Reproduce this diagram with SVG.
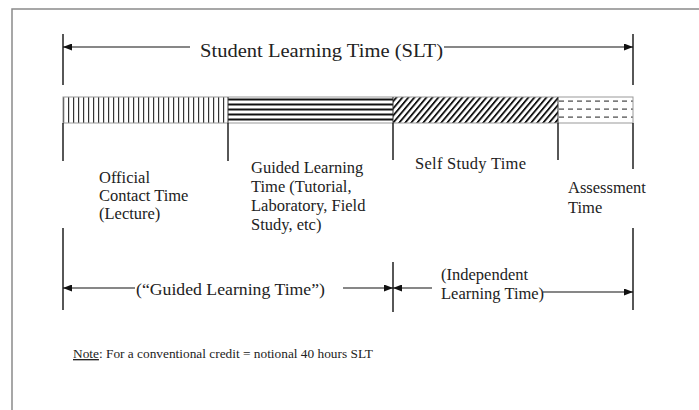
<svg xmlns="http://www.w3.org/2000/svg" width="699" height="410" viewBox="0 0 699 410">
<style>
.t{fill:#222;}
.lbl{font-size:16.5px;}
.ln{stroke:#111;stroke-width:1.2;fill:none;}
.tick{stroke:#111;stroke-width:1.4;}
.frame{stroke:#8a8a8a;stroke-width:1.5;fill:none;}
</style>
<defs>
<marker id="ah" viewBox="0 0 10 10" refX="10" refY="5" markerWidth="9" markerHeight="7" markerUnits="userSpaceOnUse" orient="auto-start-reverse" preserveAspectRatio="none">
<path d="M0,0 L10,5 L0,10 z" fill="#111"/>
</marker>
<pattern id="pv" patternUnits="userSpaceOnUse" x="63" y="0" width="5" height="10">
<rect width="5" height="10" fill="#fff"/>
<rect x="0" y="0" width="1.2" height="10" fill="#333"/>
</pattern>
<pattern id="ph" patternUnits="userSpaceOnUse" x="0" y="97" width="10" height="5">
<rect width="10" height="5" fill="#fff"/>
<rect x="0" y="1.5" width="10" height="2" fill="#111"/>
</pattern>
<pattern id="pd" patternUnits="userSpaceOnUse" x="393" y="97" width="6" height="6" patternTransform="skewX(-40)">
<rect width="6" height="6" fill="#fff"/>
<rect x="0" y="0" width="2.4" height="6" fill="#111"/>
</pattern>
<pattern id="pt" patternUnits="userSpaceOnUse" x="558" y="97" width="9" height="8">
<rect width="9" height="8" fill="#fff"/>
<rect x="1" y="3.5" width="5" height="1.2" fill="#444"/>
</pattern>
</defs>
<rect width="699" height="410" fill="#fff"/>
<g id="frame">
<path class="frame" d="M12,410 V9 H699"/>
</g>
<g font-family="Liberation Serif, Times New Roman, serif" fill="#222">
<g id="title">
<text x="200" y="57" font-size="18" textLength="243" lengthAdjust="spacingAndGlyphs" font-family="Liberation Serif, serif">Student Learning Time (SLT)</text>
</g>
<g id="label-contact">
<text class="lbl" x="99" y="183" font-family="Liberation Serif, serif">Official</text>
<text class="lbl" x="99" y="201" font-family="Liberation Serif, serif">Contact Time</text>
<text class="lbl" x="99" y="219" font-family="Liberation Serif, serif">(Lecture)</text>
</g>
<g id="label-guided">
<text class="lbl" x="251" y="173" font-family="Liberation Serif, serif">Guided Learning</text>
<text class="lbl" x="251" y="192" font-family="Liberation Serif, serif">Time (Tutorial,</text>
<text class="lbl" x="251" y="211" font-family="Liberation Serif, serif">Laboratory, Field</text>
<text class="lbl" x="251" y="230" font-family="Liberation Serif, serif">Study, etc)</text>
</g>
<g id="label-self">
<text class="lbl" x="415" y="169" textLength="111" lengthAdjust="spacing" font-family="Liberation Serif, serif">Self Study Time</text>
</g>
<g id="label-assess">
<text class="lbl" x="568" y="193" font-family="Liberation Serif, serif">Assessment</text>
<text class="lbl" x="568" y="213" font-family="Liberation Serif, serif">Time</text>
</g>
<g id="label-glt">
<text class="lbl" x="136" y="295" textLength="189" lengthAdjust="spacingAndGlyphs" font-family="Liberation Serif, serif">(“Guided Learning Time”)</text>
</g>
<g id="label-ilt">
<text class="lbl" x="441" y="280" font-family="Liberation Serif, serif">(Independent</text>
<text class="lbl" x="441" y="299" font-family="Liberation Serif, serif">Learning Time)</text>
</g>
<g id="note">
<text x="73" y="358" font-size="13.5" textLength="300" lengthAdjust="spacingAndGlyphs" font-family="Liberation Serif, serif"><tspan text-decoration="underline">Note</tspan>: For a conventional credit = notional 40 hours SLT</text>
</g>
</g>
<g id="bar">
<rect id="seg-contact" x="63" y="97" width="165" height="26" fill="url(#pv)"/>
<rect id="seg-guided" x="228" y="97" width="165" height="26" fill="url(#ph)"/>
<rect id="seg-self" x="393" y="97" width="165" height="26" fill="url(#pd)"/>
<rect id="seg-assess" x="558" y="97" width="75" height="26" fill="url(#pt)"/>
<rect x="63" y="97" width="570" height="26" fill="none" stroke="#999" stroke-width="1"/>
<path d="M228,97V123 M393,97V123 M558,97V123" stroke="#333" stroke-width="1"/>
</g>
<g id="ticks">
<path class="tick" d="M63,34V85 M633,34V85 M63,123V161 M228,123V161 M393,123V160 M558,123V160 M633,123V169 M63,228V310 M393,262V312 M633,228V310"/>
</g>
<g id="connectors">
<line class="ln" x1="190" y1="47" x2="63" y2="47" marker-end="url(#ah)"/>
<line class="ln" x1="444" y1="47" x2="633" y2="47" marker-end="url(#ah)"/>
<line class="ln" x1="135" y1="288" x2="63" y2="288" marker-end="url(#ah)"/>
<line class="ln" x1="343" y1="288" x2="393" y2="288" marker-end="url(#ah)"/>
<line class="ln" x1="432" y1="288" x2="393" y2="288" marker-end="url(#ah)"/>
<line class="ln" x1="543" y1="292" x2="633" y2="292" marker-end="url(#ah)"/>
</g>
</svg>
